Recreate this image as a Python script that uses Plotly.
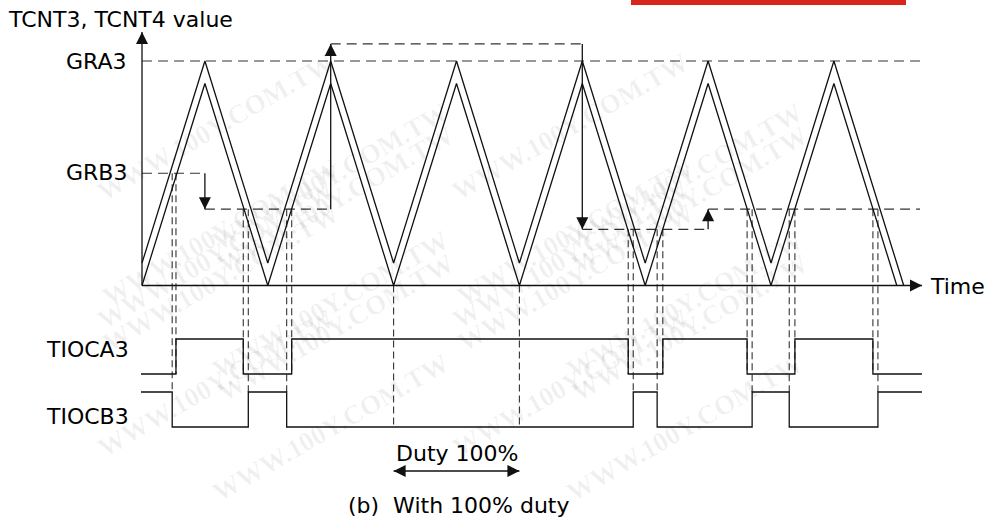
import plotly.graph_objects as go

# ── data (time in timer counts, counter value in % of GRA3) ─────────
ramp_t = [0, 10, 20, 30, 40, 50, 60, 70, 80, 90, 100, 110, 120]
tcnt_lower = [0, 90, 0, 90, 0, 90, 0, 90, 0, 90, 0, 90, 0]
ramp_t_upper = [0, 10, 20, 30, 40, 50, 60, 70, 80, 90, 100, 110, 121.1]
tcnt_upper = [10, 100, 10, 100, 10, 100, 10, 100, 10, 100, 10, 100, 0]

gra3_value = 100
grb_change_t = [10, 30, 70, 90]
grb_levels = [50, 34, 107.6, 25, 34]

tioca3_edges = [5.4, 16.1, 23.8, 77.3, 82.8, 96.2, 103.8, 116.2]
tiocb3_edges = [4.8, 16.9, 23.0, 78.1, 81.9, 97.0, 102.9, 117.0]
duty100_t = [40, 60]
t_end = 124.0

# ── page geometry (pixel -> data helpers) ───────────────────────────
W, H = 987, 519
X0, XS = 142.0, 6.29      # px of t=0, px per count
Y0, YS = 285.5, 2.245     # px of value 0, px per %


def tx(px):
    return (px - X0) / XS


def vy(py):
    return (Y0 - py) / YS


A_HI, A_LO = vy(339), vy(374)
B_HI, B_LO = vy(392), vy(427)
INK = "#111111"
DASH_COL = "#333333"
FONT = dict(family="DejaVu Sans", size=22, color="#000000")


def grb_at(t):
    idx = sum(1 for c in grb_change_t if c <= t)
    return grb_levels[idx]


def step_wave(edges, start_high, hi, lo, t0, t1):
    lvl = hi if start_high else lo
    xs, ys = [t0], [lvl]
    for e in edges:
        nxt = lo if lvl == hi else hi
        xs += [e, e]
        ys += [lvl, nxt]
        lvl = nxt
    xs.append(t1)
    ys.append(lvl)
    return xs, ys


fig = go.Figure()

# GRA3 reference line
fig.add_trace(go.Scatter(
    x=[0, tx(920)], y=[gra3_value, gra3_value], mode="lines",
    line=dict(color=DASH_COL, width=1.2, dash="10px,6px"),
))

# GRB3 buffer levels (dashed) + transfer arrows (solid)
bounds = [0] + grb_change_t + [tx(920)]
gx, gy = [], []
for i, lvl in enumerate(grb_levels):
    gx += [bounds[i], bounds[i + 1], None]
    gy += [lvl, lvl, None]
fig.add_trace(go.Scatter(
    x=gx, y=gy, mode="lines",
    line=dict(color=DASH_COL, width=1.2, dash="10px,6px"),
))
ax, ay, tips_up, tips_dn = [], [], [], []
for i, t in enumerate(grb_change_t):
    old, new = grb_levels[i], grb_levels[i + 1]
    ax += [t, t, None]
    ay += [old, new, None]
    (tips_up if new > old else tips_dn).append((t, new))
fig.add_trace(go.Scatter(x=ax, y=ay, mode="lines", line=dict(color=INK, width=1.3)))
fig.add_trace(go.Scatter(
    x=[p[0] for p in tips_dn], y=[p[1] for p in tips_dn], mode="markers",
    marker=dict(symbol="arrow-down", size=12, color=INK, line=dict(width=0)),
))
fig.add_trace(go.Scatter(
    x=[p[0] for p in tips_up], y=[p[1] for p in tips_up], mode="markers",
    marker=dict(symbol="arrow-up", size=12, color=INK, line=dict(width=0)),
))

# vertical dashed guides from compare matches down to the outputs
vx, vyy = [], []
for e in tioca3_edges:
    vx += [e, e, None]
    vyy += [grb_at(e), A_LO, None]
for e in tiocb3_edges:
    vx += [e, e, None]
    vyy += [grb_at(e), B_HI, None]
for t in duty100_t:
    vx += [t, t, None]
    vyy += [0, B_LO, None]
fig.add_trace(go.Scatter(
    x=vx, y=vyy, mode="lines",
    line=dict(color=DASH_COL, width=1.1, dash="7px,4px"),
))

# counter triangle waves (double line)
fig.add_trace(go.Scatter(x=ramp_t_upper, y=tcnt_upper, mode="lines",
                         line=dict(color=INK, width=1.3)))
fig.add_trace(go.Scatter(x=ramp_t, y=tcnt_lower, mode="lines",
                         line=dict(color=INK, width=1.3)))

# axes with arrows
fig.add_trace(go.Scatter(x=[0, 0], y=[0, vy(32)], mode="lines",
                         line=dict(color=INK, width=1.3)))
fig.add_trace(go.Scatter(x=[0, tx(922)], y=[0, 0], mode="lines",
                         line=dict(color=INK, width=1.3)))
fig.add_trace(go.Scatter(
    x=[0], y=[vy(32)], mode="markers",
    marker=dict(symbol="arrow-up", size=12, color=INK, line=dict(width=0)),
))
fig.add_trace(go.Scatter(
    x=[tx(922)], y=[0], mode="markers",
    marker=dict(symbol="arrow-right", size=12, color=INK, line=dict(width=0)),
))

# output waveforms
xa, ya = step_wave(tioca3_edges, False, A_HI, A_LO, tx(141), t_end)
xb, yb = step_wave(tiocb3_edges, True, B_HI, B_LO, tx(141), t_end)
fig.add_trace(go.Scatter(x=xa, y=ya, mode="lines", line=dict(color=INK, width=1.3)))
fig.add_trace(go.Scatter(x=xb, y=yb, mode="lines", line=dict(color=INK, width=1.3)))

# duty 100% span arrow
duty_y = vy(471)
fig.add_trace(go.Scatter(x=duty100_t, y=[duty_y, duty_y], mode="lines",
                         line=dict(color=INK, width=1.3)))
fig.add_trace(go.Scatter(
    x=duty100_t, y=[duty_y, duty_y], mode="markers",
    marker=dict(symbol=["arrow-left", "arrow-right"], size=12, color=INK,
                line=dict(width=0)),
))

# watermark
wm = []
for cx, cy in [(90, 45), (95, 150), (90, 255), (95, 360), (90, 465),
               (330, 95), (335, 200), (330, 305), (335, 410), (330, 510),
               (570, 45), (575, 150), (570, 255), (575, 360), (570, 465),
               (810, 95), (815, 200), (810, 305), (815, 410), (810, 510)]:
    wm.append(dict(
        text="<b>WWW.100Y.COM.TW</b>", x=cx / W, y=1 - cy / H,
        xref="paper", yref="paper", showarrow=False, textangle=-30,
        font=dict(family="Liberation Serif", size=27, color="rgba(0,0,0,0.06)"),
    ))

labels = [
    ("TCNT3, TCNT4 value", 6, 19, "left"),
    ("GRA3", 129, 61, "right"),
    ("GRB3", 129, 172, "right"),
    ("TIOCA3", 131, 349, "right"),
    ("TIOCB3", 131, 416, "right"),
    ("Time", 928, 286, "left"),
    ("Duty 100%", 457, 453, "center"),
    ("(b)\u00a0 With 100% duty", 459, 505, "center"),
]
ann = list(wm)
for text, px, py, anchor in labels:
    ann.append(dict(
        text=text, x=tx(px), y=vy(py), xref="x", yref="y",
        xanchor=anchor, yanchor="middle", showarrow=False, font=FONT,
    ))

fig.update_layout(
    width=W, height=H,
    margin=dict(l=0, r=0, t=0, b=0),
    paper_bgcolor="white", plot_bgcolor="white",
    showlegend=False,
    xaxis=dict(range=[tx(0), tx(W)], visible=False, fixedrange=True),
    yaxis=dict(range=[vy(H), vy(0)], visible=False, fixedrange=True),
    annotations=ann,
    shapes=[dict(type="rect", xref="paper", yref="paper",
                 x0=631 / W, x1=906 / W, y0=1 - 5 / H, y1=1,
                 fillcolor="#D9261C", line=dict(width=0))],
)

fig.write_html(
    "out.html",
    config={"displayModeBar": False},
    post_script="document.body.style.margin='0';document.body.style.overflow='hidden';",
)
